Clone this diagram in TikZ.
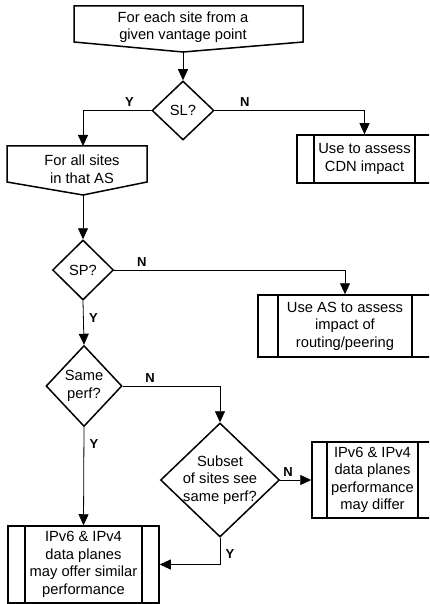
\documentclass[tikz,border=0pt]{standalone}
\usepackage{fontspec}
\setmainfont{Liberation Sans}
\usetikzlibrary{shapes, arrows.meta}

\begin{document}
\begin{tikzpicture}[x=1pt, y=-1pt,
        box/.style={line width=1.5pt, line join=miter},
        dia/.style={draw, diamond, line width=1.5pt, inner sep=0pt},
        txt/.style={align=center, inner sep=0pt, font=\fontsize{14.7}{17.5}\selectfont},
        pbox/.default=17,
        pbox/.style={draw, rectangle, line width=1.5pt, inner sep=0pt, align=center, font=\fontsize{14.7}{17.5}\selectfont,
                path picture={\draw[line width=1.5pt] ([xshift=#1pt]path picture bounding box.north west) -- ([xshift=#1pt]path picture bounding box.south west);
                        \draw[line width=1.5pt] ([xshift=-#1pt]path picture bounding box.north east) -- ([xshift=-#1pt]path picture bounding box.south east);}},
        yn/.style={font=\bfseries\fontsize{13}{13}\selectfont},
        flow/.style={-{Triangle[length=11pt, width=10pt]}, line width=0.8pt}]
        \useasboundingbox (0,0) rectangle (429,604);
        \clip (0,0) rectangle (429,604);
        % loop limits
        \draw[box] (74,6) -- (303,6) -- (303,42) -- (183,52) -- (74,42) -- cycle;
        \node[txt] (each) at (183,27) {For each site from a\\given vantage point};
        \coordinate (eachend) at (183,52);
        \draw[box] (7,146) -- (147,146) -- (147,182) -- (83,195) -- (7,182) -- cycle;
        \node[txt] (allas) at (82,169) {For all sites\\in that AS};
        \coordinate (allastop) at (83,146);
        \coordinate (allasend) at (83,195);
        % decisions
        \node[dia, minimum width=62pt, minimum height=59pt] (sl) at (183,110.5) {};
        \node[txt] (sltxt) at (sl) {SL?};
        \node[dia, minimum width=61pt, minimum height=60pt] (sp) at (83,270) {};
        \node[txt] (sptxt) at (sp) {SP?};
        \node[dia, minimum width=76pt, minimum height=81pt] (same) at (84,386) {};
        \node[txt] (sametxt) at (same) {Same\\perf?};
        \node[dia, minimum width=119pt, minimum height=114pt] (subset) at (220,480) {};
        \node[txt] (subsettxt) at (subset) {Subset\\of sites see\\same perf?};
        % outcomes
        \node[pbox, minimum width=135pt, minimum height=48pt] (cdn) at (364.5,159) {Use to assess\\CDN impact};
        \node[pbox=20, minimum width=174pt, minimum height=62pt] (route) at (345,326) {Use AS to assess\\impact of\\routing/peering};
        \node[pbox=15, minimum width=121pt, minimum height=76pt] (differ) at (372.5,480) {IPv6 \& IPv4\\data planes\\performance\\may differ};
        \node[pbox, minimum width=151pt, minimum height=77pt] (similar) at (83.5,564.5) {IPv6 \& IPv4\\data planes\\may offer similar\\performance};
        % connectors
        \draw[flow] (eachend) -- (sl.north);
        \draw[flow] (sl.west) -| (allastop) node[yn, pos=0.16, above] {Y};
        \draw[flow] (sl.east) -| (cdn.north) node[yn, pos=0.1, above] {N};
        \draw[flow] (allasend) -- (sp.north);
        \draw[flow] (sp.east) -| (route.north) node[yn, pos=0.06, above] {N};
        \draw[flow] (sp.south) -- (same.north) node[yn, pos=0.4, right=2pt] {Y};
        \draw[flow] (same.east) -| (subset.north) node[yn, pos=0.14, above] {N};
        \draw[flow] (same.south) -- (similar.north) node[yn, pos=0.17, right=2pt] {Y};
        \draw[flow] (subset.east) -- (differ.west) node[yn, pos=0.25, above] {N};
        \draw[flow] (subset.south) |- (similar.east) node[yn, pos=0.3, right=2pt] {Y};
\end{tikzpicture}
\end{document}
